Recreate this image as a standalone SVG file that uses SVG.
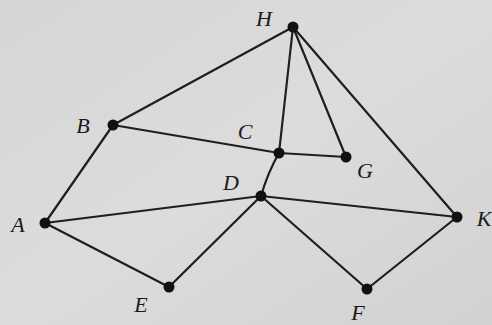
<svg xmlns="http://www.w3.org/2000/svg" width="492" height="325" viewBox="0 0 492 325">
<defs>
<linearGradient id="bg" x1="0" y1="0" x2="1" y2="1">
<stop offset="0" stop-color="#d6d6d6"/>
<stop offset="0.5" stop-color="#dcdcdc"/>
<stop offset="1" stop-color="#d2d2d2"/>
</linearGradient>
<style>
.e{stroke:#1e1e1e;stroke-width:2.2;fill:none;stroke-linecap:round}
.n{fill:#111}
.t{font-family:"Liberation Serif","DejaVu Serif",serif;font-style:italic;font-size:22px;fill:#1a1a1a;text-anchor:middle;dominant-baseline:central}
</style>
</defs>
<rect width="492" height="325" fill="url(#bg)"/>
<g id="connectors">
<line class="e" x1="293" y1="27" x2="113" y2="125"/>
<line class="e" x1="293" y1="27" x2="279" y2="153"/>
<line class="e" x1="293" y1="27" x2="346" y2="157"/>
<line class="e" x1="293" y1="27" x2="457" y2="217"/>
<line class="e" x1="113" y1="125" x2="279" y2="153"/>
<line class="e" x1="279" y1="153" x2="346" y2="157"/>
<path class="e" d="M279 153 Q268 172 261 196"/>
<line class="e" x1="113" y1="125" x2="45" y2="223"/>
<line class="e" x1="45" y1="223" x2="261" y2="196"/>
<line class="e" x1="45" y1="223" x2="169" y2="287"/>
<line class="e" x1="169" y1="287" x2="261" y2="196"/>
<line class="e" x1="261" y1="196" x2="457" y2="217"/>
<line class="e" x1="261" y1="196" x2="367" y2="289"/>
<line class="e" x1="367" y1="289" x2="457" y2="217"/>
</g>
<g id="H"><circle class="n" cx="293" cy="27" r="5.5"/><text class="t" x="264" y="18">H</text></g>
<g id="B"><circle class="n" cx="113" cy="125" r="5.5"/><text class="t" x="83" y="125">B</text></g>
<g id="C"><circle class="n" cx="279" cy="153" r="5.5"/><text class="t" x="245" y="131">C</text></g>
<g id="G"><circle class="n" cx="346" cy="157" r="5.5"/><text class="t" x="365" y="170">G</text></g>
<g id="D"><circle class="n" cx="261" cy="196" r="5.5"/><text class="t" x="231" y="182">D</text></g>
<g id="A"><circle class="n" cx="45" cy="223" r="5.5"/><text class="t" x="18" y="224">A</text></g>
<g id="K"><circle class="n" cx="457" cy="217" r="5.5"/><text class="t" x="484" y="218">K</text></g>
<g id="E"><circle class="n" cx="169" cy="287" r="5.5"/><text class="t" x="141" y="304">E</text></g>
<g id="F"><circle class="n" cx="367" cy="289" r="5.5"/><text class="t" x="358" y="312">F</text></g>
</svg>
